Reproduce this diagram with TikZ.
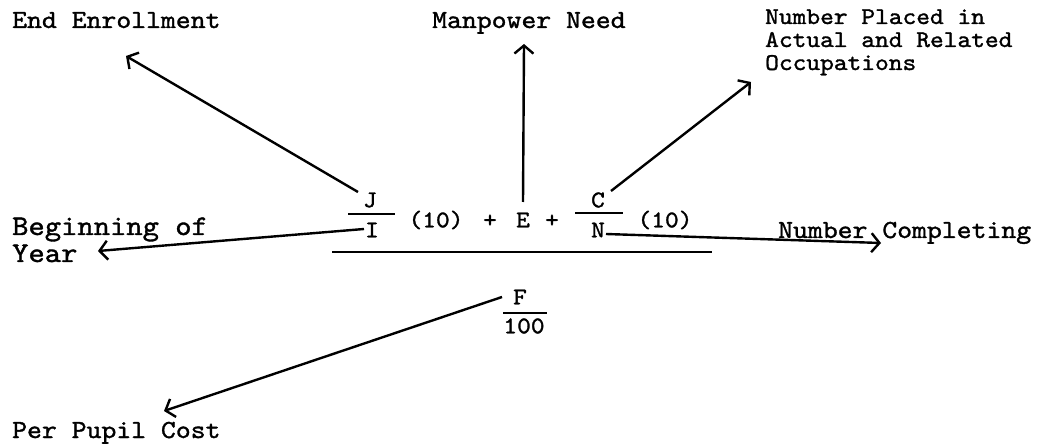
\documentclass[tikz,border=0pt]{standalone}
\usepackage{fontspec}
\usetikzlibrary{arrows.meta}
\newfontfamily\lmtw[FakeBold=1.3,FakeStretch=1.09]{lmmono10-regular.otf}
\newcommand\twf[2]{\lmtw\fontsize{#1}{#2}\selectfont}
\begin{document}
\begin{tikzpicture}[x=1pt,y=-1pt,
  lbl/.style={anchor=base west,inner sep=0pt,font=\twf{26}{27},align=left},
  sym/.style={inner sep=0pt,font=\twf{24}{25}},
  conn/.style={line width=2.4pt,-{Straight Barb[length=8pt,width=19pt,line width=2.4pt]}},
  bar/.style={line width=2pt}]
\useasboundingbox (0,0) rectangle (1058,446);
% labels
\node[lbl] (end) at (12,28) {End Enrollment};
\node[lbl] (man) at (432,28) {Manpower Need};
\node[lbl,font=\twf{24}{23}] (placed) at (765,70) {Number Placed in\\Actual and Related\\Occupations};
\node[lbl,font=\twf{28.5}{27}] (begin) at (12,262) {Beginning of\\Year};
\node[lbl] (compl) at (778,238) {Number Completing};
\node[lbl] (cost) at (12,438) {Per Pupil Cost};
% formula
\node[sym] (J) at (370,200) {J};
\node[sym] (I) at (372,230) {I};
\node[sym] (p1) at (436,220) {(10)};
\node[sym] (plus1) at (490,221) {+};
\node[sym] (E) at (523,220) {E};
\node[sym] (plus2) at (552,221) {+};
\node[sym] (C) at (598,200) {C};
\node[sym] (N) at (598,230) {N};
\node[sym] (p2) at (665,220) {(10)};
\node[sym] (F) at (520,297) {F};
\node[sym] (H) at (524,326) {100};
\draw[bar] (348,214) -- (395,214);
\draw[bar] (575,213) -- (623,213);
\draw[bar] (332,252) -- (712,252);
\draw[bar] (503,313) -- (547,313);
% connector ends
\coordinate (sJ) at (358,192);
\coordinate (tEnd) at (126,56);
\coordinate (sE) at (523,202);
\coordinate (tMan) at (524,44);
\coordinate (sC) at (611,191);
\coordinate (tPl) at (751,82);
\coordinate (sI) at (364,229);
\coordinate (tBeg) at (98,251);
\coordinate (sN) at (606,234);
\coordinate (tCo) at (881,243);
\coordinate (sF) at (502,297);
\coordinate (tCost) at (164,411);
\draw[conn] (sJ) -- (tEnd);
\draw[conn] (sE) -- (tMan);
\draw[conn] (sC) -- (tPl);
\draw[conn] (sI) -- (tBeg);
\draw[conn] (sN) -- (tCo);
\draw[conn] (sF) -- (tCost);
\end{tikzpicture}
\end{document}
